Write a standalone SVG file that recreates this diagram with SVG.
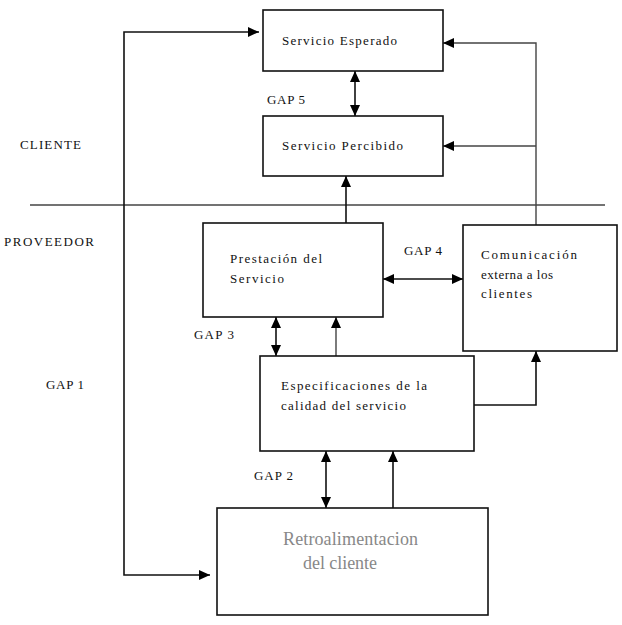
<svg xmlns="http://www.w3.org/2000/svg" width="622" height="625" viewBox="0 0 622 625">
<style>
.box{fill:#fff;stroke:#111;stroke-width:1.6}
.t{font-family:"Liberation Serif","Times New Roman",serif;font-size:13px;fill:#111}
.g{font-family:"Liberation Serif","Times New Roman",serif;font-size:18px;fill:#888}
.c{fill:none;stroke:#111;stroke-width:1.6}
.s{fill:none;stroke:#444;stroke-width:1.4}
</style>
<defs>
<marker id="ah" markerUnits="userSpaceOnUse" markerWidth="12" markerHeight="12" refX="11" refY="6" orient="auto-start-reverse" viewBox="0 0 12 12">
<path d="M0,1 L11,6 L0,11 z" fill="#000"/>
</marker>
</defs>
<rect width="622" height="625" fill="#fff"/>
<line x1="30" y1="205" x2="605" y2="205" stroke="#444" stroke-width="1.4"/>
<text class="t" x="20" y="149" textLength="61">CLIENTE</text>
<text class="t" x="4" y="246" textLength="90">PROVEEDOR</text>
<text class="t" x="46" y="389" textLength="38">GAP 1</text>
<text class="t" x="267" y="104" textLength="38">GAP 5</text>
<text class="t" x="404" y="255" textLength="38">GAP 4</text>
<text class="t" x="194" y="339" textLength="40">GAP 3</text>
<text class="t" x="254" y="480" textLength="39">GAP 2</text>
<g id="connectors">
<path class="c" d="M210,575 H124 V32 H259" marker-start="url(#ah)" marker-end="url(#ah)"/>
<path class="c" d="M355,71 V116" marker-start="url(#ah)" marker-end="url(#ah)"/>
<path class="c" d="M346,223 V176" marker-end="url(#ah)"/>
<path class="s" d="M536,225 V43 H443" marker-end="url(#ah)"/>
<path class="s" d="M536,146 H443" marker-end="url(#ah)"/>
<path class="c" d="M383,279 H463" marker-start="url(#ah)" marker-end="url(#ah)"/>
<path class="c" d="M276,317 V356" marker-start="url(#ah)" marker-end="url(#ah)"/>
<path class="s" d="M336,356 V317" marker-end="url(#ah)"/>
<path class="c" d="M474,405 H536 V351" marker-end="url(#ah)"/>
<path class="c" d="M326,451 V508" marker-start="url(#ah)" marker-end="url(#ah)"/>
<path class="c" d="M393,508 V451" marker-end="url(#ah)"/>
</g>
<g id="esperado">
<rect class="box" x="263" y="10" width="180" height="61"/>
<text class="t" x="282" y="45" textLength="115">Servicio Esperado</text>
</g>
<g id="percibido">
<rect class="box" x="263" y="116" width="180" height="60"/>
<text class="t" x="282" y="150" textLength="121">Servicio Percibido</text>
</g>
<g id="prestacion">
<rect class="box" x="203" y="223" width="180" height="94"/>
<text class="t" x="230" y="263" textLength="92">Prestación del</text>
<text class="t" x="230" y="283" textLength="54">Servicio</text>
</g>
<g id="comunicacion">
<rect class="box" x="463" y="225" width="154" height="126"/>
<text class="t" x="481" y="259" textLength="96">Comunicación</text>
<text class="t" x="481" y="279" textLength="72">externa a los</text>
<text class="t" x="481" y="298" textLength="51">clientes</text>
</g>
<g id="especificaciones">
<rect class="box" x="260" y="356" width="214" height="95"/>
<text class="t" x="281" y="390" textLength="146">Especificaciones de la</text>
<text class="t" x="281" y="410" textLength="125">calidad del servicio</text>
</g>
<g id="retroalimentacion">
<rect class="box" x="217" y="508" width="271" height="107"/>
<text class="g" x="283" y="545" textLength="135">Retroalimentacion</text>
<text class="g" x="303" y="569" textLength="74">del cliente</text>
</g>
</svg>
